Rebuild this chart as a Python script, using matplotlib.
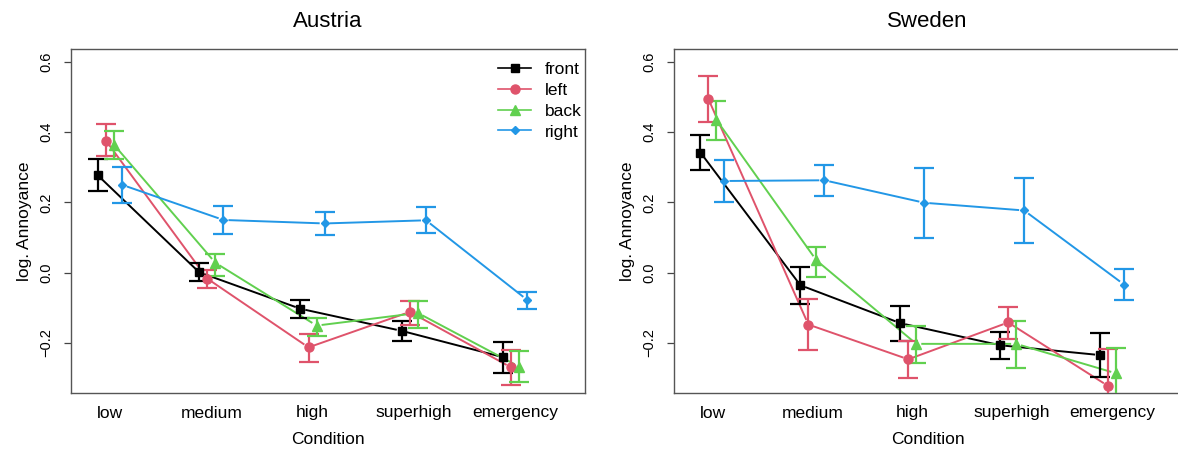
import numpy as np
import matplotlib
matplotlib.use("Agg")
import matplotlib.pyplot as plt
from matplotlib.lines import Line2D

plt.rcParams['font.family'] = ['Liberation Sans', 'DejaVu Sans']

conditions = ["low", "medium", "high", "superhigh", "emergency"]
positions = ["front", "left", "back", "right"]
colors = ["#000000", "#DF536B", "#61D04F", "#2297E6"]
markers = ["s", "o", "^", "D"]
msizes = [6.0, 6.5, 7.0, 4.0]

# Austria: mean and lower/upper interval per position
austria_mean = {
    "front": [0.277, 0.001, -0.103, -0.166, -0.241],
    "left":  [0.376, -0.017, -0.213, -0.112, -0.270],
    "back":  [0.364, 0.028, -0.151, -0.115, -0.268],
    "right": [0.250, 0.150, 0.140, 0.149, -0.078],
}
austria_lo = {
    "front": [0.232, -0.024, -0.129, -0.194, -0.285],
    "left":  [0.331, -0.045, -0.255, -0.149, -0.321],
    "back":  [0.325, -0.010, -0.182, -0.158, -0.313],
    "right": [0.197, 0.111, 0.107, 0.113, -0.103],
}
austria_hi = {
    "front": [0.323, 0.026, -0.077, -0.139, -0.197],
    "left":  [0.422, 0.007, -0.175, -0.080, -0.220],
    "back":  [0.402, 0.054, -0.130, -0.080, -0.223],
    "right": [0.301, 0.190, 0.173, 0.187, -0.054],
}

# Sweden
sweden_mean = {
    "front": [0.342, -0.036, -0.144, -0.207, -0.235],
    "left":  [0.494, -0.148, -0.247, -0.142, -0.323],
    "back":  [0.435, 0.035, -0.203, -0.203, -0.287],
    "right": [0.261, 0.263, 0.199, 0.177, -0.034],
}
sweden_lo = {
    "front": [0.291, -0.089, -0.194, -0.247, -0.298],
    "left":  [0.429, -0.220, -0.301, -0.189, -0.428],
    "back":  [0.377, -0.012, -0.258, -0.272, -0.359],
    "right": [0.201, 0.219, 0.098, 0.084, -0.078],
}
sweden_hi = {
    "front": [0.391, 0.016, -0.094, -0.168, -0.172],
    "left":  [0.559, -0.075, -0.196, -0.097, -0.218],
    "back":  [0.489, 0.073, -0.151, -0.137, -0.215],
    "right": [0.320, 0.307, 0.299, 0.270, 0.009],
}

offsets = [-0.12, -0.04, 0.04, 0.12]
gap = 6.0  # pixels left open around each point, like R type="b"


def gapped_line(ax, x, y):
    # shorten each segment in display space so it stops short of the points
    pts = ax.transData.transform(np.column_stack([x, y]))
    inv = ax.transData.inverted()
    xs, ys = [], []
    for p0, p1 in zip(pts[:-1], pts[1:]):
        d = p1 - p0
        L = np.hypot(d[0], d[1])
        if L <= 2 * gap:
            continue
        q0 = inv.transform(p0 + d / L * gap)
        q1 = inv.transform(p1 - d / L * gap)
        xs += [q0[0], q1[0], np.nan]
        ys += [q0[1], q1[1], np.nan]
    return xs, ys


def panel(ax, title, mean, lo, hi):
    ax.set_xlim(0.615, 5.69)
    ax.set_ylim(-0.343, 0.637)
    x0 = np.arange(1, len(conditions) + 1)
    for i, pos in enumerate(positions):
        x = x0 + offsets[i]
        m = np.array(mean[pos])
        xs, ys = gapped_line(ax, x, m)
        ax.plot(xs, ys, color=colors[i], lw=1.4, zorder=2)
        err = np.vstack([m - np.array(lo[pos]), np.array(hi[pos]) - m])
        ax.errorbar(x, m, yerr=err, fmt="none", ecolor=colors[i],
                    elinewidth=1.6, capsize=7, capthick=1.6, zorder=3)
        ax.plot(x, m, linestyle="none", marker=markers[i], ms=msizes[i],
                color=colors[i], zorder=4)
    ax.set_xticks(x0)
    ax.set_xticklabels(conditions, fontsize=12.5)
    ax.tick_params(axis="x", length=0, pad=9)
    ax.set_yticks([-0.2, 0.0, 0.2, 0.4, 0.6])
    ax.set_yticklabels(["\u22120.2", "0.0", "0.2", "0.4", "0.6"],
                       fontsize=10.5, rotation=90, va="center")
    ax.tick_params(axis="y", length=5, width=0.9, pad=8, color="#444444")
    for s in ax.spines.values():
        s.set_color("#555555")
        s.set_linewidth(1.0)
    ax.set_title(title, fontsize=16, pad=16)
    ax.set_xlabel("Condition", fontsize=12.5, labelpad=8)
    ax.set_ylabel("log. Annoyance", fontsize=12.5, labelpad=5)


fig = plt.figure(figsize=(11.78, 4.49), dpi=100)
ax1 = fig.add_axes([71 / 1178, 1 - 393 / 449, 514 / 1178, 344 / 449])
ax2 = fig.add_axes([674 / 1178, 1 - 393 / 449, 507 / 1178, 344 / 449])

panel(ax1, "Austria", austria_mean, austria_lo, austria_hi)
panel(ax2, "Sweden", sweden_mean, sweden_lo, sweden_hi)

handles = [Line2D([], [], color=colors[i], marker=markers[i], ms=msizes[i],
                  lw=1.2) for i in range(len(positions))]
ax1.legend(handles, positions, loc="upper left", bbox_to_anchor=(0.831, 0.963),
           frameon=False, fontsize=12.5, handlelength=1.9, handletextpad=0.8,
           labelspacing=0.33, borderpad=0, borderaxespad=0)

fig.savefig("out.png", dpi=100)
